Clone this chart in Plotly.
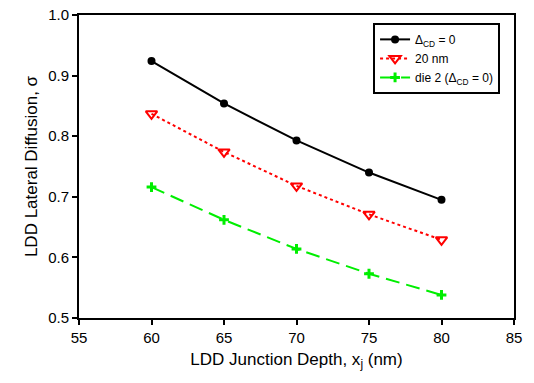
import plotly.graph_objects as go

x_nm = [60, 65, 70, 75, 80]
sigma_cd0 = [0.924, 0.854, 0.793, 0.740, 0.695]
sigma_20nm = [0.837, 0.774, 0.718, 0.671, 0.629]
sigma_die2 = [0.716, 0.662, 0.614, 0.573, 0.538]
names = ["Δ<sub>CD</sub> = 0", "20 nm", "die 2 (Δ<sub>CD</sub> = 0)"]

fig = go.Figure()
fig.add_trace(go.Scatter(x=x_nm, y=sigma_cd0, name=names[0], mode="lines+markers",
                         line=dict(color="black", width=2),
                         marker=dict(symbol="circle", size=8, color="black")))
fig.add_trace(go.Scatter(x=x_nm, y=sigma_20nm, name=names[1], mode="lines+markers",
                         line=dict(color="red", width=2, dash="3px,3px"),
                         marker=dict(symbol="triangle-down-open", size=10, color="red",
                                     line=dict(width=2, color="red"))))
fig.add_trace(go.Scatter(x=x_nm, y=sigma_die2, name=names[2], mode="lines+markers",
                         line=dict(color="#00ee00", width=2, dash="14px,7px"),
                         marker=dict(symbol="cross-thin-open", size=7, color="#00ee00",
                                     line=dict(width=3, color="#00ee00"))))

axis_common = dict(showgrid=False, zeroline=False, showline=True, linecolor="black",
                   linewidth=2, mirror=True, ticks="outside", ticklen=5, tickwidth=2,
                   tickcolor="black", automargin=False,
                   tickfont=dict(family="Arial", size=15, color="black"))

fig.update_layout(
    width=534, height=383,
    margin=dict(l=79, r=20, t=15, b=65),
    plot_bgcolor="white", paper_bgcolor="white",
    font=dict(family="Arial", color="black"),
    xaxis=dict(range=[55, 85], dtick=5, tick0=55,
               title=dict(text="LDD Junction Depth, x<sub>j</sub> (nm)",
                          font=dict(size=17), standoff=8),
               **axis_common),
    yaxis=dict(range=[0.5, 1.0], dtick=0.1, tickformat=".1f",
               title=dict(text="LDD Lateral Diffusion, σ", font=dict(size=17), standoff=6),
               **axis_common),
    legend=dict(x=0.676, y=0.974, xanchor="left", yanchor="top",
                bordercolor="black", borderwidth=2, bgcolor="white",
                font=dict(size=12, family="Arial"), itemwidth=30,
                tracegroupgap=0),
    showlegend=True,
)

fig.write_html("out.html", config={"displayModeBar": False},
               post_script="document.body.style.margin='0';")
